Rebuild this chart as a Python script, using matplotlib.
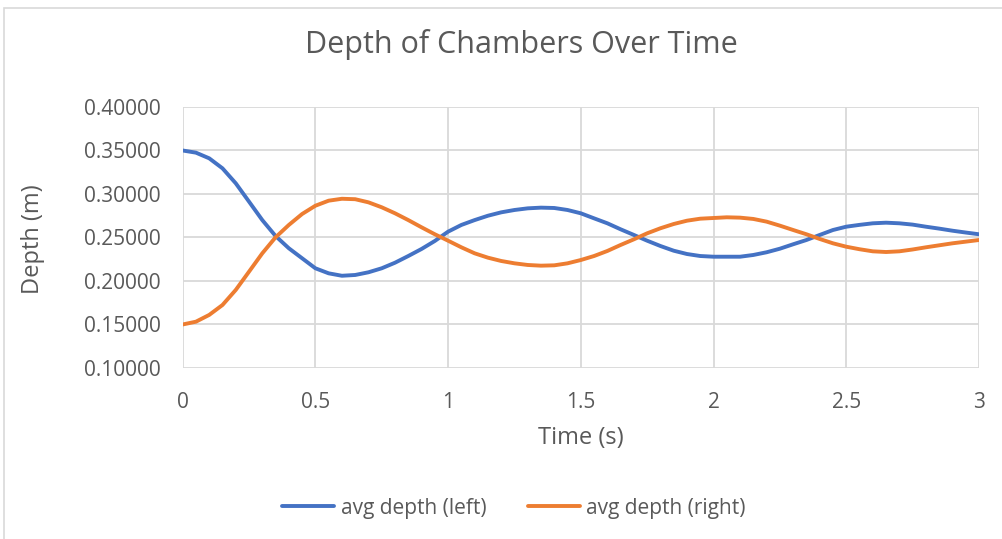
import matplotlib
matplotlib.use("Agg")
import matplotlib.pyplot as plt
from matplotlib.patches import Rectangle

plt.rcParams["font.family"] = ["Open Sans", "DejaVu Sans"]

TEXT_COLOR = "#595959"
GRID_COLOR = "#d9d9d9"
LEFT_COLOR = "#4472C4"
RIGHT_COLOR = "#ED7D31"

time_s = [0.00, 0.05, 0.10, 0.15, 0.20, 0.25, 0.30, 0.35, 0.40, 0.45,
          0.50, 0.55, 0.60, 0.65, 0.70, 0.75, 0.80, 0.85, 0.90, 0.95,
          1.00, 1.05, 1.10, 1.15, 1.20, 1.25, 1.30, 1.35, 1.40, 1.45,
          1.50, 1.55, 1.60, 1.65, 1.70, 1.75, 1.80, 1.85, 1.90, 1.95,
          2.00, 2.05, 2.10, 2.15, 2.20, 2.25, 2.30, 2.35, 2.40, 2.45,
          2.50, 2.55, 2.60, 2.65, 2.70, 2.75, 2.80, 2.85, 2.90, 2.95,
          3.00]

depth_left = [0.3500, 0.3475, 0.3410, 0.3295, 0.3123, 0.2912, 0.2700, 0.2517, 0.2376, 0.2261,
              0.2146, 0.2088, 0.2060, 0.2069, 0.2100, 0.2146, 0.2210, 0.2287, 0.2368, 0.2460,
              0.2567, 0.2644, 0.2700, 0.2750, 0.2789, 0.2816, 0.2835, 0.2843, 0.2839, 0.2816,
              0.2778, 0.2720, 0.2663, 0.2594, 0.2529, 0.2463, 0.2402, 0.2348, 0.2310, 0.2287,
              0.2279, 0.2279, 0.2279, 0.2299, 0.2330, 0.2371, 0.2422, 0.2471, 0.2529, 0.2586,
              0.2624, 0.2645, 0.2663, 0.2670, 0.2663, 0.2648, 0.2624, 0.2602, 0.2578, 0.2557,
              0.2537]

depth_right = [0.1500, 0.1532, 0.1610, 0.1724, 0.1897, 0.2107, 0.2318, 0.2502, 0.2644, 0.2770,
               0.2865, 0.2923, 0.2945, 0.2940, 0.2904, 0.2847, 0.2778, 0.2700, 0.2617, 0.2537,
               0.2463, 0.2387, 0.2318, 0.2268, 0.2230, 0.2203, 0.2184, 0.2176, 0.2180, 0.2203,
               0.2241, 0.2287, 0.2345, 0.2414, 0.2479, 0.2548, 0.2606, 0.2655, 0.2693, 0.2716,
               0.2724, 0.2732, 0.2728, 0.2713, 0.2682, 0.2636, 0.2586, 0.2537, 0.2483, 0.2433,
               0.2394, 0.2365, 0.2341, 0.2333, 0.2341, 0.2362, 0.2387, 0.2410, 0.2433, 0.2452,
               0.2471]

x_ticks = [0, 0.5, 1, 1.5, 2, 2.5, 3]
x_tick_labels = ["0", "0.5", "1", "1.5", "2", "2.5", "3"]
y_ticks = [0.10, 0.15, 0.20, 0.25, 0.30, 0.35, 0.40]


fig = plt.figure(figsize=(10.02, 5.39), dpi=100)
ax = fig.add_axes([0.1823, 0.3173, 0.7947, 0.4842])

# chart frame, only its top and left edges fall inside the picture
fig.patches.append(
    Rectangle((4 / 1002, -0.1), 1.2, 1.1 - 8 / 539,
              transform=fig.transFigure, fill=False,
              edgecolor=GRID_COLOR, linewidth=1.2)
)

ax.plot(time_s, depth_left, color=LEFT_COLOR, lw=2.8, label="avg depth (left)",
        solid_capstyle="round", solid_joinstyle="round", zorder=3)
ax.plot(time_s, depth_right, color=RIGHT_COLOR, lw=2.8, label="avg depth (right)",
        solid_capstyle="round", solid_joinstyle="round", zorder=3)

ax.set_xlim(0, 3)
ax.set_ylim(0.10, 0.40)
ax.set_xticks(x_ticks)
ax.set_xticklabels(x_tick_labels)
ax.set_yticks(y_ticks)
ax.set_yticklabels([f"{v:.5f}" for v in y_ticks])
ax.grid(True, color=GRID_COLOR, lw=1.3, zorder=0)
ax.set_axisbelow(True)
for spine in ax.spines.values():
    spine.set_visible(False)
ax.tick_params(length=0, labelsize=15, colors=TEXT_COLOR)
ax.tick_params(axis="y", pad=16)
ax.tick_params(axis="x", pad=17)

fig.text(581 / 1002, 1 - 438 / 539, "Time (s)", ha="center", va="center",
         fontsize=17, color=TEXT_COLOR)
fig.text(33 / 1002, 1 - 239 / 539, "Depth (m)", ha="center", va="center",
         rotation=90, fontsize=17, color=TEXT_COLOR)

fig.text(0.5205, 0.901, "Depth of Chambers Over Time", ha="center", va="baseline",
         fontsize=22, color=TEXT_COLOR)

fig.legend(loc="center", bbox_to_anchor=(514 / 1002, 0.0575), ncol=2, frameon=False,
           fontsize=15, labelcolor=TEXT_COLOR, handlelength=2.5,
           handletextpad=0.3, columnspacing=2.0)

fig.savefig("out.png", dpi=100)
